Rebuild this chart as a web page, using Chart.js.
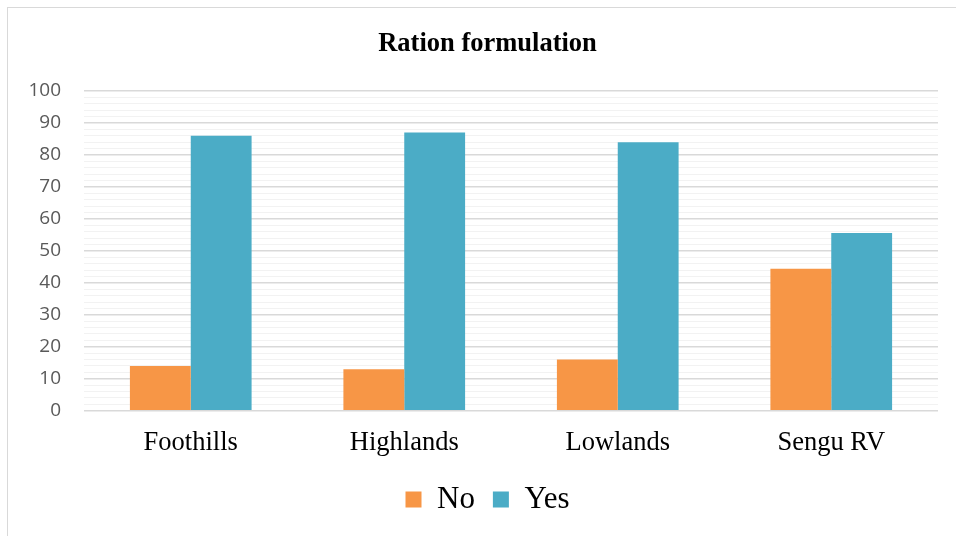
<!DOCTYPE html>
<html>
<head>
<meta charset="utf-8">
<script src="https://cdn.jsdelivr.net/npm/chart.js@4/dist/chart.umd.min.js"></script>
<style>
  html, body { margin: 0; padding: 0; background: #fff; }
  #frame { position: absolute; left: 7px; top: 7px; width: 1000px; height: 600px; border: 1px solid #d9d9d9; }
  #wrap { position: absolute; left: 0; top: 0; width: 956px; height: 536px; }
</style>
</head>
<body>
<div id="frame"></div>
<div id="wrap"><canvas id="c" width="956" height="536"></canvas></div>
<script>
const regions = ['Foothills', 'Highlands', 'Lowlands', 'Sengu RV'];
const noValues = [14, 13, 16, 44.4];
const yesValues = [86, 87, 84, 55.6];
const yTicks = [0, 10, 20, 30, 40, 50, 60, 70, 80, 90, 100];

const serif = '"Liberation Serif", "Times New Roman", serif';

// Title and legend sit centred on the framed panel rather than the canvas.
const centreShift = {
  id: 'centreShift',
  afterLayout(chart) {
    const dx = 18.5;
    [chart.titleBlock, chart.legend].forEach(box => {
      if (box) { box.left += dx; box.right += dx; }
    });
  }
};

new Chart(document.getElementById('c'), {
  type: 'bar',
  data: {
    labels: regions,
    datasets: [
      { label: 'No', data: noValues, backgroundColor: '#F79646', borderWidth: 0 },
      { label: 'Yes', data: yesValues, backgroundColor: '#4BACC6', borderWidth: 0 }
    ]
  },
  plugins: [centreShift],
  options: {
    responsive: false,
    animation: false,
    layout: { padding: { left: 0, right: 18, top: 0, bottom: 11 } },
    datasets: { bar: { categoryPercentage: 0.57, barPercentage: 1.0 } },
    plugins: {
      title: {
        display: true,
        text: 'Ration formulation',
        color: '#000',
        font: { family: serif, size: 26.5, weight: 'bold', lineHeight: 1.2 },
        padding: { top: 28, bottom: 31.2 }
      },
      legend: {
        position: 'bottom',
        labels: {
          color: '#000',
          font: { family: serif, size: 31 },
          boxWidth: 16,
          boxHeight: 16,
          padding: 18
        }
      },
      tooltip: { enabled: false }
    },
    scales: {
      x: {
        grid: { display: false, drawTicks: false },
        border: { display: false },
        ticks: { color: '#000', font: { family: serif, size: 26.5 }, padding: 16, maxRotation: 0 },
        afterFit(scale) { scale.height = 55.3; }
      },
      y: {
        min: 0,
        max: 100,
        border: { display: false },
        grid: {
          drawTicks: false,
          color: ctx => (ctx.tick && ctx.tick.value % 10 === 0) ? '#d9d9d9' : '#f2f2f2',
          lineWidth: ctx => (ctx.tick && ctx.tick.value % 10 === 0) ? 1.5 : 1
        },
        ticks: {
          stepSize: 2,
          autoSkip: false,
          color: '#595959',
          padding: 23,
          font: { family: '"Open Sans", sans-serif', size: 19 },
          callback: v => yTicks.includes(v) ? String(v) : ''
        },
        afterFit(scale) { scale.width = 84; }
      }
    }
  }
});
</script>
</body>
</html>
